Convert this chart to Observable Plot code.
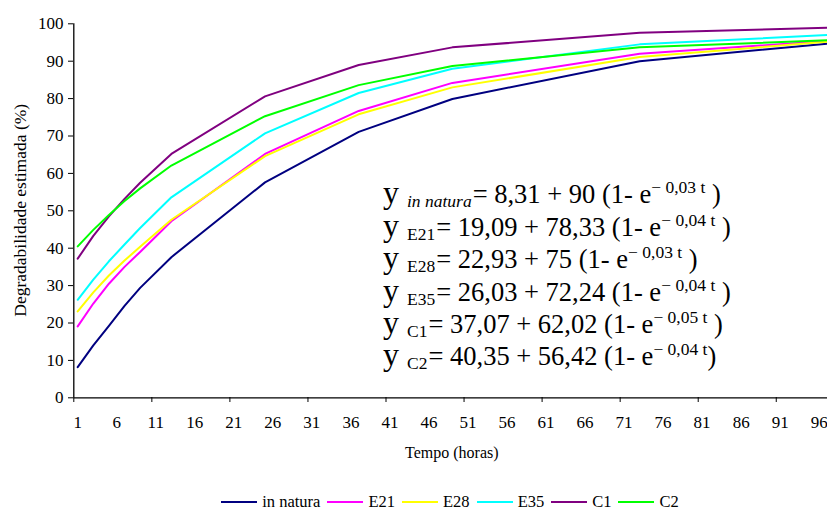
<!DOCTYPE html>
<html>
<head>
<meta charset="utf-8">
<script src="https://cdn.jsdelivr.net/npm/d3@7"></script>
<script src="https://cdn.jsdelivr.net/npm/@observablehq/plot@0.6"></script>
<style>
  html, body { margin: 0; padding: 0; background: #fff; overflow: hidden; }
  #wrap { position: relative; width: 827px; height: 511px; font-family: "Liberation Serif", "Times New Roman", serif; color: #000; }
  #legend { position: absolute; left: 0; top: 492px; width: 900px; display: flex; justify-content: center; align-items: center; font-size: 16.5px; line-height: 20px; }
  #legend .item { display: flex; align-items: center; margin: 0 3.5px; }
  #legend .sw { display: inline-block; width: 36px; height: 0; border-top: 2px solid; margin-right: 5px; }
  svg text { font-family: "Liberation Serif", "Times New Roman", serif; }
</style>
</head>
<body>
<div id="wrap"><div id="chart"></div><div id="legend"></div></div>
<script>
// Category index on the axis (time t = category - 1)
const categories = [1, 3, 5, 7, 9, 13, 25, 37, 49, 73, 97];
const seriesNames = ["in natura", "E21", "E28", "E35", "C1", "C2"];
const seriesColors = ["#000080", "#ff00ff", "#ffff00", "#00ffff", "#800080", "#00ff00"];
const inNatura = [8.2, 14.0, 19.2, 24.6, 29.4, 37.6, 57.6, 71.1, 79.9, 90.0, 94.7];
const e21      = [19.1, 25.2, 30.5, 35.0, 39.0, 47.2, 65.2, 76.7, 84.2, 92.0, 95.4];
const e28      = [23.1, 28.2, 32.7, 36.7, 40.4, 47.6, 64.6, 75.8, 83.0, 91.1, 95.2];
const e35      = [26.2, 31.6, 36.5, 41.0, 45.4, 53.6, 70.7, 81.5, 88.0, 94.5, 97.0];
const c1       = [37.2, 43.3, 48.5, 53.2, 57.5, 65.2, 80.6, 89.0, 93.7, 97.6, 98.95];
const c2       = [40.5, 44.9, 48.9, 52.6, 56.0, 62.1, 75.3, 83.6, 88.7, 93.7, 95.6];
const xTickLabels = [1, 6, 11, 16, 21, 26, 31, 36, 41, 46, 51, 56, 61, 66, 71, 76, 81, 86, 91, 96];
const xTickMarks = [0.5, 10.5, 20.5, 30.5, 40.5, 50.5, 60.5, 70.5, 80.5, 90.5];
const yTicks = [0, 10, 20, 30, 40, 50, 60, 70, 80, 90, 100];
const yTitle = "Degradabilidade estimada (%)";
const xTitle = "Tempo (horas)";
const equations = [
  {sub: "in natura", italic: true, body: "= 8,31 + 90 (1- e", sup: "− 0,03 t", end: " )"},
  {sub: "E21", italic: false, body: "= 19,09 + 78,33 (1- e", sup: "− 0,04 t", end: " )"},
  {sub: "E28", italic: false, body: "= 22,93 + 75 (1- e", sup: "− 0,03 t", end: " )"},
  {sub: "E35", italic: false, body: "= 26,03 + 72,24 (1- e", sup: "− 0,04 t", end: " )"},
  {sub: "C1", italic: false, body: "= 37,07 + 62,02 (1- e", sup: "− 0,05 t", end: " )"},
  {sub: "C2", italic: false, body: "= 40,35 + 56,42 (1- e", sup: "− 0,04 t", end: ")"}
];

const allSeries = [inNatura, e21, e28, e35, c1, c2];
const rows = [];
seriesNames.forEach((name, i) => {
  categories.forEach((c, j) => rows.push({series: name, x: c, y: allSeries[i][j]}));
});

const W = 827, H = 470;
const plot = Plot.plot({
  width: W,
  height: H,
  marginLeft: 73, marginRight: 0, marginTop: 23, marginBottom: 73,
  style: {fontFamily: '"Liberation Serif", "Times New Roman", serif', fontSize: "17px", color: "#000", background: "#fff", overflow: "hidden"},
  x: {domain: [0.5, 97.5], range: [73.3, 830.4]},
  y: {domain: [0, 100], range: [397.3, 23.3]},
  color: {domain: seriesNames, range: seriesColors},
  marks: [
    Plot.line(rows, {x: "x", y: "y", z: "series", stroke: "series", strokeWidth: 2}),
    Plot.ruleX([0.5], {y1: 0, y2: 100, stroke: "#000", strokeWidth: 1.3}),
    Plot.ruleY([0], {x1: 0.5, x2: 97.5, stroke: "#000", strokeWidth: 1.3}),
    Plot.axisY({ticks: yTicks, tickSize: 5, tickPadding: 5, label: null, fontSize: 17, stroke: "#000"}),
    Plot.axisX({ticks: xTickMarks, tickSize: 5, tickFormat: () => "", label: null}),
    Plot.axisX({ticks: xTickLabels, tickSize: 0, tickPadding: 18, label: null, fontSize: 17, tickFormat: d => String(d)})
  ]
});
document.getElementById("chart").appendChild(plot);

const svg = d3.select(plot);
const xs = plot.scale("x"), ys = plot.scale("y");
// axis titles
svg.append("text")
  .attr("x", (xs.apply(0.5) + xs.apply(97.5)) / 2).attr("y", 458)
  .attr("text-anchor", "middle").attr("font-size", 16).attr("fill", "#000")
  .text(xTitle);
svg.append("text")
  .attr("transform", `translate(26, ${(ys.apply(0) + ys.apply(100)) / 2}) rotate(-90)`)
  .attr("text-anchor", "middle").attr("font-size", 17.5).attr("fill", "#000")
  .text(yTitle);

// equations
const eqX = 383, eqY0 = 203.3, eqStep = 32.4;
equations.forEach((e, i) => {
  const t = svg.append("text")
    .attr("x", eqX).attr("y", eqY0 + i * eqStep)
    .attr("text-anchor", "start")
    .attr("font-size", 26.5).attr("fill", "#000")
    .style("white-space", "pre");
  t.append("tspan").attr("font-size", 32).text("y");
  t.append("tspan").attr("font-size", 17.5).attr("dy", 4).attr("dx", 8)
    .attr("font-style", e.italic ? "italic" : "normal").text(e.sub);
  t.append("tspan").attr("dy", -4).attr("dx", 1).text(e.body);
  t.append("tspan").attr("font-size", 17.5).attr("dy", -10).text(e.sup);
  t.append("tspan").attr("dy", 10).text(e.end);
});

// legend
const lg = document.getElementById("legend");
seriesNames.forEach((n, i) => {
  const it = document.createElement("span");
  it.className = "item";
  const sw = document.createElement("span");
  sw.className = "sw";
  sw.style.borderTopColor = seriesColors[i];
  it.appendChild(sw);
  it.appendChild(document.createTextNode(n));
  lg.appendChild(it);
});
</script>
</body>
</html>
